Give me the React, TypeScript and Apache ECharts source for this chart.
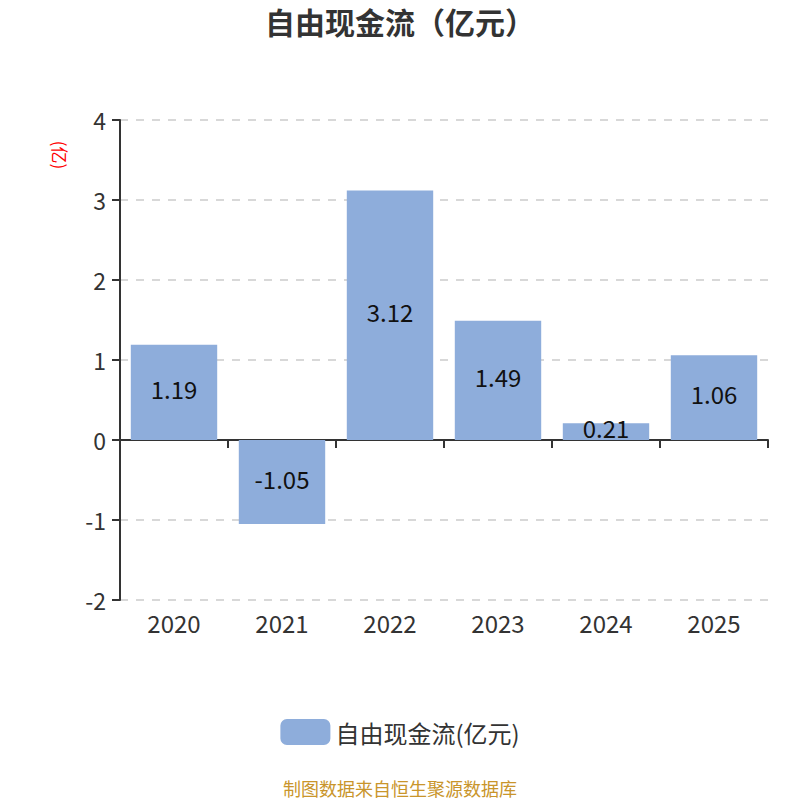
import { useEffect, useRef } from "react";
import * as echarts from "echarts";

const YEARS = ["2020", "2021", "2022", "2023", "2024", "2025"];
const FCF = [1.19, -1.05, 3.12, 1.49, 0.21, 1.06];
const SERIES_NAME = "自由现金流(亿元)";

const FONT = "'Noto Sans CJK SC', 'Noto Sans', sans-serif";
const INK = "#333";

export default function App() {
  const boxRef = useRef<HTMLDivElement>(null);

  useEffect(() => {
    if (!boxRef.current) return;
    const chart = echarts.init(boxRef.current, undefined, { renderer: "svg" });
    chart.setOption({
      animation: false,
      textStyle: { fontFamily: FONT },
      title: {
        text: "自由现金流（亿元）",
        left: "center",
        top: 1,
        textStyle: { fontSize: 30, fontWeight: "bold", color: INK, fontFamily: FONT },
      },
      legend: {
        data: [SERIES_NAME],
        bottom: 50,
        left: "center",
        icon: "roundRect",
        itemWidth: 50,
        itemHeight: 26,
        textStyle: { fontSize: 24, color: INK, fontFamily: FONT },
      },
      grid: { left: 120, right: 32, top: 120, bottom: 200 },
      xAxis: [
        {
          // zero line with ticks, no labels
          type: "category",
          data: YEARS,
          axisLine: { onZero: true, lineStyle: { color: INK, width: 2 } },
          axisTick: { show: true, length: 8, lineStyle: { color: INK, width: 2 } },
          axisLabel: { show: false },
        },
        {
          // labels along the bottom
          type: "category",
          data: YEARS,
          position: "bottom",
          axisLine: { show: false },
          axisTick: { show: false },
          axisLabel: { fontSize: 24, color: INK, margin: 10, fontFamily: FONT },
        },
      ],
      yAxis: {
        type: "value",
        min: -2,
        max: 4,
        interval: 1,
        axisLine: { show: true, lineStyle: { color: INK, width: 2 } },
        axisTick: { show: true, length: 8, lineStyle: { color: INK, width: 2 } },
        axisLabel: { fontSize: 23, color: INK, margin: 14, fontFamily: FONT },
        splitLine: { lineStyle: { color: "#ccc", type: [8, 8], width: 1.5 } },
      },
      graphic: [
        {
          type: "text",
          x: 60,
          y: 155,
          rotation: -Math.PI / 2,
          style: {
            text: "(亿)",
            fill: "red",
            font: `17px ${FONT}`,
            align: "center",
            verticalAlign: "middle",
          },
        },
        {
          type: "text",
          x: 400,
          y: 788,
          style: {
            text: "制图数据来自恒生聚源数据库",
            fill: "#c9952b",
            font: `18px ${FONT}`,
            align: "center",
            verticalAlign: "middle",
          },
        },
      ],
      series: [
        {
          name: SERIES_NAME,
          type: "bar",
          xAxisIndex: 0,
          data: FCF,
          barWidth: "80%",
          itemStyle: { color: "#8eaddb" },
          label: {
            show: true,
            position: "inside",
            offset: [0, -4],
            fontSize: 24,
            color: "#111",
            fontFamily: FONT,
          },
        },
      ],
    });
    return () => chart.dispose();
  }, []);

  return (
    <div
      ref={boxRef}
      style={{ position: "absolute", left: 0, top: 0, width: 800, height: 800 }}
    />
  );
}
